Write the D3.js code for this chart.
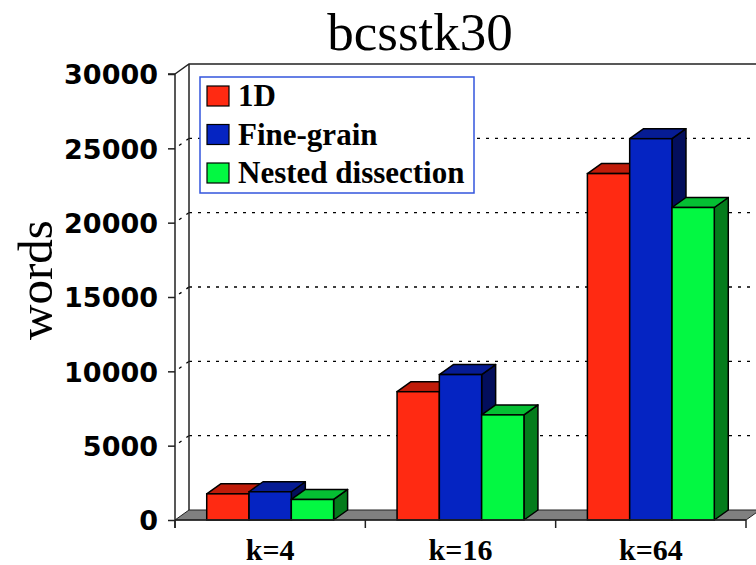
<!DOCTYPE html>
<html>
<head>
<meta charset="utf-8">
<script src="https://cdn.jsdelivr.net/npm/d3@7"></script>
<style>
  html, body { margin: 0; padding: 0; background: #fff; }
  svg { display: block; }
</style>
</head>
<body>
<svg id="chart" width="756" height="565"></svg>
<script>
// Communication volume (words) for bcsstk30 by number of parts k
const categories = ["k=4", "k=16", "k=64"];
const seriesNames = ["1D", "Fine-grain", "Nested dissection"];
const val1D = [1760, 8630, 23300];
const valFineGrain = [1900, 9780, 25650];
const valNested = [1380, 7070, 21020];
const yTicks = [0, 5000, 10000, 15000, 20000, 25000, 30000];

const seriesValues = [val1D, valFineGrain, valNested];
const faceColors = [
  { front: "#ff2a12", top: "#c01c0a", side: "#8a1206" },
  { front: "#0524c2", top: "#061c94", side: "#030e5c" },
  { front: "#03f842", top: "#05bf33", side: "#047c1c" }
];

const svg = d3.select("#chart");
const DX = 14, DY = -10;          // depth offset of the 3D box
const x0 = 175, x1 = 746;

const y = d3.scaleLinear().domain([0, 30000]).range([520, 74]);
const xBand = d3.scaleBand().domain(categories).range([x0, x1]);
const bw = xBand.bandwidth();
const xSeries = d3.scaleBand().domain(seriesNames).range([bw / 6, bw * 5 / 6]);

const serif = "'Liberation Serif', 'Times New Roman', Times, serif";

// Title
svg.append("text")
  .attr("x", 420).attr("y", 50)
  .attr("text-anchor", "middle")
  .attr("font-family", serif)
  .attr("font-size", 53)
  .text("bcsstk30");

// Y axis title
svg.append("text")
  .attr("transform", "translate(52,280) rotate(-90)")
  .attr("text-anchor", "middle")
  .attr("font-family", serif)
  .attr("font-size", 49)
  .text("words");

// Back wall frame and floor
const g = svg.append("g");
const yTop = y(30000), yBot = y(0);

// floor
g.append("path")
  .attr("d", `M${x0},${yBot} L${x0 + DX},${yBot + DY} L${x1 + DX},${yBot + DY} L${x1},${yBot} Z`)
  .attr("fill", "#808080").attr("stroke", "#222").attr("stroke-width", 1);

// gridlines on back wall plus the diagonal on the side wall
yTicks.filter(d => d > 0 && d < 30000).forEach(d => {
  g.append("line")
    .attr("x1", x0 + DX).attr("x2", 760)
    .attr("y1", y(d) + DY).attr("y2", y(d) + DY)
    .attr("stroke", "#000").attr("stroke-width", 1.4)
    .attr("stroke-dasharray", "3,6");
  g.append("line")
    .attr("x1", x0).attr("x2", x0 + DX)
    .attr("y1", y(d)).attr("y2", y(d) + DY)
    .attr("stroke", "#000").attr("stroke-width", 1.3)
    .attr("stroke-dasharray", "3,6").attr("stroke-dashoffset", -5);
});

// back wall left edge and top edge
g.append("path")
  .attr("d", `M${x0},${yTop} L${x0 + DX},${yTop + DY} L760,${yTop + DY}`)
  .attr("fill", "none").attr("stroke", "#222").attr("stroke-width", 1.5);
g.append("line")
  .attr("x1", x0 + DX).attr("x2", x0 + DX)
  .attr("y1", yTop + DY).attr("y2", yBot + DY)
  .attr("stroke", "#222").attr("stroke-width", 1.5);

// Bars
categories.forEach((cat, ci) => {
  seriesNames.forEach((s, si) => {
    const v = seriesValues[si][ci];
    const bx = xBand(cat) + xSeries(s);
    const w = xSeries.bandwidth();
    const by = y(v);
    const c = faceColors[si];
    const bar = g.append("g");
    bar.append("path")
      .attr("d", `M${bx + w},${by} L${bx + w + DX},${by + DY} L${bx + w + DX},${yBot + DY} L${bx + w},${yBot} Z`)
      .attr("fill", c.side).attr("stroke", "#000").attr("stroke-width", 1.5).attr("stroke-linejoin", "round");
    bar.append("path")
      .attr("d", `M${bx},${by} L${bx + DX},${by + DY} L${bx + w + DX},${by + DY} L${bx + w},${by} Z`)
      .attr("fill", c.top).attr("stroke", "#000").attr("stroke-width", 1.5).attr("stroke-linejoin", "round");
    bar.append("rect")
      .attr("x", bx).attr("y", by).attr("width", w).attr("height", yBot - by)
      .attr("fill", c.front).attr("stroke", "#000").attr("stroke-width", 1.5);
  });
});

// Y axis
const yAxis = d3.axisLeft(y).tickValues(yTicks).tickSize(7).tickPadding(10)
  .tickFormat(d3.format("d"));
const ya = svg.append("g").attr("transform", `translate(${x0},0)`).call(yAxis);
ya.select(".domain").attr("stroke", "#222").attr("stroke-width", 1.5)
  .attr("d", `M-7,${yTop}H0V${yBot + 8}`);
ya.selectAll(".tick line").attr("stroke", "#222").attr("stroke-width", 1.5);
ya.selectAll(".tick text")
  .attr("font-family", "'DejaVu Sans', sans-serif")
  .attr("font-weight", "bold")
  .attr("font-size", 27)
  .attr("fill", "#000")
  .attr("dy", "0.36em");

// X axis
const xAxis = d3.axisBottom(xBand).tickSize(0).tickPadding(0);
const xa = svg.append("g").attr("transform", `translate(0,${yBot})`).call(xAxis);
xa.select(".domain").attr("stroke", "#222").attr("stroke-width", 1.5)
  .attr("d", `M${x0},0H${x1}`);
xa.selectAll(".tick text")
  .attr("font-family", serif)
  .attr("font-weight", "bold")
  .attr("font-size", 30)
  .attr("fill", "#000")
  .attr("dy", 0)
  .attr("y", 40);
// category boundary ticks
xa.selectAll(".bound").data([...categories.map(c => xBand(c)), x1]).enter()
  .append("line").attr("class", "bound")
  .attr("x1", d => d).attr("x2", d => d).attr("y1", 0).attr("y2", 8)
  .attr("stroke", "#222").attr("stroke-width", 1.5);

// Legend
const lg = svg.append("g");
lg.append("rect")
  .attr("x", 200).attr("y", 77).attr("width", 274).attr("height", 116)
  .attr("fill", "#fff").attr("stroke", "#3355dd").attr("stroke-width", 1.5);
seriesNames.forEach((s, i) => {
  const cy = 96 + i * 38.5;
  lg.append("rect")
    .attr("x", 207).attr("y", cy - 10).attr("width", 22).attr("height", 20)
    .attr("fill", faceColors[i].front).attr("stroke", "#000").attr("stroke-width", 1.2);
  lg.append("text")
    .attr("x", 238).attr("y", cy + 10)
    .attr("font-family", serif)
    .attr("font-weight", "bold")
    .attr("font-size", 31)
    .text(s);
});
</script>
</body>
</html>
